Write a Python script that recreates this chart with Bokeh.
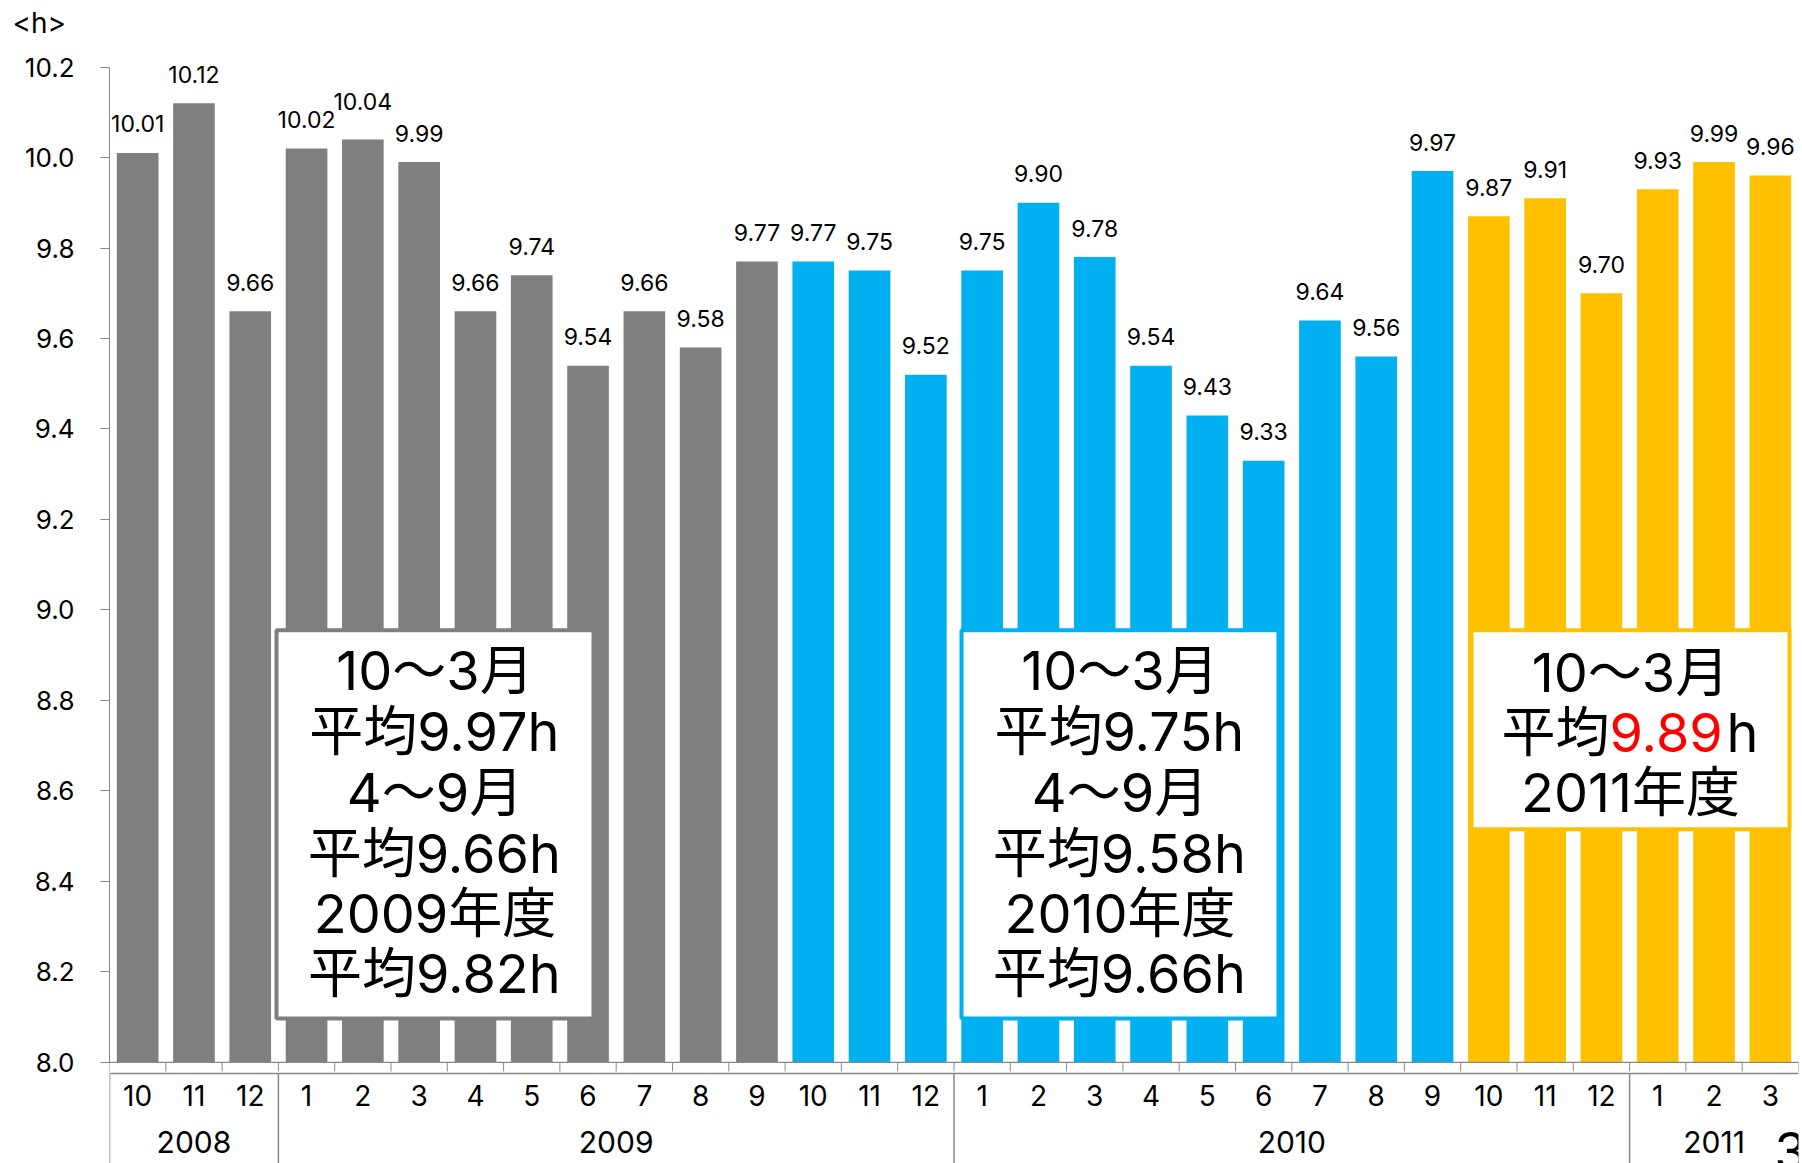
from bokeh.plotting import figure
from bokeh.models import Range1d, FixedTicker, PrintfTickFormatter, ColumnDataSource
from bokeh.embed import file_html
from bokeh.resources import INLINE
from bokeh.core.properties import value

NUM_FONT = "Inter"
BOX_FONT = "Inter, Noto Sans CJK JP"

# ---------------- data ----------------
months = ["10", "11", "12",
          "1", "2", "3", "4", "5", "6", "7", "8", "9", "10", "11", "12",
          "1", "2", "3", "4", "5", "6", "7", "8", "9", "10", "11", "12",
          "1", "2", "3"]
year_groups = ["2008", "2009", "2010", "2011"]
year_counts = [3, 12, 12, 3]
hours = [10.01, 10.12, 9.66,
         10.02, 10.04, 9.99, 9.66, 9.74, 9.54, 9.66, 9.58, 9.77, 9.77, 9.75, 9.52,
         9.75, 9.90, 9.78, 9.54, 9.43, 9.33, 9.64, 9.56, 9.97, 9.87, 9.91, 9.70,
         9.93, 9.99, 9.96]
period = ["A"] * 12 + ["B"] * 12 + ["C"] * 6
y_ticks = [8.0, 8.2, 8.4, 8.6, 8.8, 9.0, 9.2, 9.4, 9.6, 9.8, 10.0, 10.2]

box_gray = ["10～3月", "平均9.97h", "4～9月", "平均9.66h", "2009年度", "平均9.82h"]
box_blue = ["10～3月", "平均9.75h", "4～9月", "平均9.58h", "2010年度", "平均9.66h"]
box_orange_1 = "10～3月"
box_orange_2 = ["平均", "9.89", "h"]
box_orange_3 = "2011年度"

# ---------------- styles ----------------
period_color = {"A": "#7F7F7F", "B": "#00B0F0", "C": "#FFC000"}
AXIS_GRAY = "#898989"
PXU = 452.3          # pixels per hour on the y axis
Y0 = 8.0
FRAME_TOP = 42.5     # pixel row where the plot frame starts (title above it)


def below(px):
    """y value lying px pixels below the 8.0 baseline"""
    return Y0 - px / PXU


n = len(hours)
xs = [i + 0.5 for i in range(n)]
label_dy = [-29] * n
label_dy[4] = -38

src = ColumnDataSource(dict(
    x=xs, top=hours, color=[period_color[k] for k in period],
    label=["%.2f" % v for v in hours], dy=label_dy))

p = figure(width=1802, height=1163,
           x_range=Range1d(0, n),
           y_range=Range1d(below(101), 10.2 + (67 - FRAME_TOP) / PXU),
           output_backend="svg", toolbar_location=None, x_axis_location=None,
           min_border_left=109, min_border_right=4, min_border_top=0, min_border_bottom=0,
           outline_line_color=None, background_fill_color="white")
p.grid.visible = False

p.title.text = "<h>"
p.title.align = "left"
p.title.offset = -97
p.title.text_font = NUM_FONT
p.title.text_font_size = "28px"
p.title.text_font_style = "normal"
p.title.text_color = "#000000"
p.title.standoff = 6

ya = p.yaxis[0]
ya.ticker = FixedTicker(ticks=y_ticks)
ya.formatter = PrintfTickFormatter(format="%.1f")
ya.bounds = (Y0, 10.2)
ya.axis_line_color = AXIS_GRAY
ya.major_tick_line_color = AXIS_GRAY
ya.major_tick_out = 9
ya.major_tick_in = 0
ya.minor_tick_line_color = None
ya.major_label_standoff = 26
ya.major_label_text_font = NUM_FONT
ya.major_label_text_font_size = "26px"
ya.major_label_text_color = "#000000"

# bars
p.vbar(x="x", top="top", bottom=Y0, width=0.74, fill_color="color", line_color=None, source=src)

# value labels
p.text(x="x", y="top", text="label", y_offset="dy", source=src,
       text_align="center", text_baseline="middle",
       text_font=value(NUM_FONT), text_font_size="23px", text_color="#000000")

# category axis (bottom)
edges = list(range(n + 1))
p.segment(x0=[0], y0=[Y0], x1=[n], y1=[Y0], line_color=AXIS_GRAY, line_width=1.2)
p.segment(x0=edges, y0=[Y0] * len(edges), x1=edges, y1=[below(9)] * len(edges),
          line_color=AXIS_GRAY, line_width=1)
p.segment(x0=[0], y0=[below(11)], x1=[n + 0.2], y1=[below(11)], line_color=AXIS_GRAY, line_width=1.5)
group_edges = [0]
for c in year_counts:
    group_edges.append(group_edges[-1] + c)
sep = group_edges[:-1]
p.segment(x0=sep, y0=[below(11)] * len(sep), x1=sep, y1=[below(110)] * len(sep),
          line_color=AXIS_GRAY, line_width=1.5)
p.text(x=xs, y=[below(33)] * n, text=months, text_align="center", text_baseline="middle",
       text_font=value(NUM_FONT), text_font_size="28px", text_color="#000000")
gcent = [(group_edges[i] + group_edges[i + 1]) / 2 for i in range(len(year_groups))]
p.text(x=gcent, y=[below(80)] * len(gcent), text=year_groups, text_align="center",
       text_baseline="middle", text_font=value(NUM_FONT), text_font_size="30px", text_color="#000000")


# annotation boxes (pixel geometry converted to data)
def cx(px):
    return (px - 109) / (1689 / n)


def cy(px):
    return 10.2 - (px - 67) / PXU


boxes = dict(left=[cx(276), cx(961), cx(1471)], right=[cx(593), cx(1278), cx(1789)],
             top=[cy(630), cy(630), cy(630)], bottom=[cy(1018), cy(1018), cy(829)],
             line_color=[period_color["A"], period_color["B"], period_color["C"]])
p.quad(left="left", right="right", top="top", bottom="bottom", line_color="line_color",
       fill_color="white", line_width=4, source=ColumnDataSource(boxes))

BOX_FS = "54px"
line_px = [670, 731, 792, 853, 913, 973]
for lines, cpx in ((box_gray, 434.5), (box_blue, 1119.5)):
    p.text(x=[cx(cpx)] * len(lines), y=[cy(v) for v in line_px], text=lines,
           text_align="center", text_baseline="middle", text_font=value(BOX_FONT),
           text_font_size=BOX_FS, text_color="#000000")

ocx = cx(1630)
p.text(x=[ocx, ocx], y=[cy(672), cy(792)], text=[box_orange_1, box_orange_3],
       text_align="center", text_baseline="middle", text_font=value(BOX_FONT),
       text_font_size=BOX_FS, text_color="#000000")
w_cjk, w_num, w_h = 108, 117, 33
start = -(w_cjk + w_num + w_h) / 2
p.text(x=[ocx], y=[cy(732)], text=[box_orange_2[0]], x_offset=start, text_align="left",
       text_baseline="middle", text_font=value(BOX_FONT), text_font_size=BOX_FS, text_color="#000000")
p.text(x=[ocx], y=[cy(732)], text=[box_orange_2[1]], x_offset=start + w_cjk, text_align="left",
       text_baseline="middle", text_font=value(BOX_FONT), text_font_size=BOX_FS, text_color="#FF0000")
p.text(x=[ocx], y=[cy(732)], text=[box_orange_2[2]], x_offset=start + w_cjk + w_num, text_align="left",
       text_baseline="middle", text_font=value(BOX_FONT), text_font_size=BOX_FS, text_color="#000000")

# page number (partly cut by the slide edge)
p.text(x=[cx(1774)], y=[below(70)], text=["3"], text_align="left", text_baseline="top",
       text_font=value(NUM_FONT), text_font_size="52px", text_color="#000000")

open("out.html", "w").write(file_html(p, INLINE))
